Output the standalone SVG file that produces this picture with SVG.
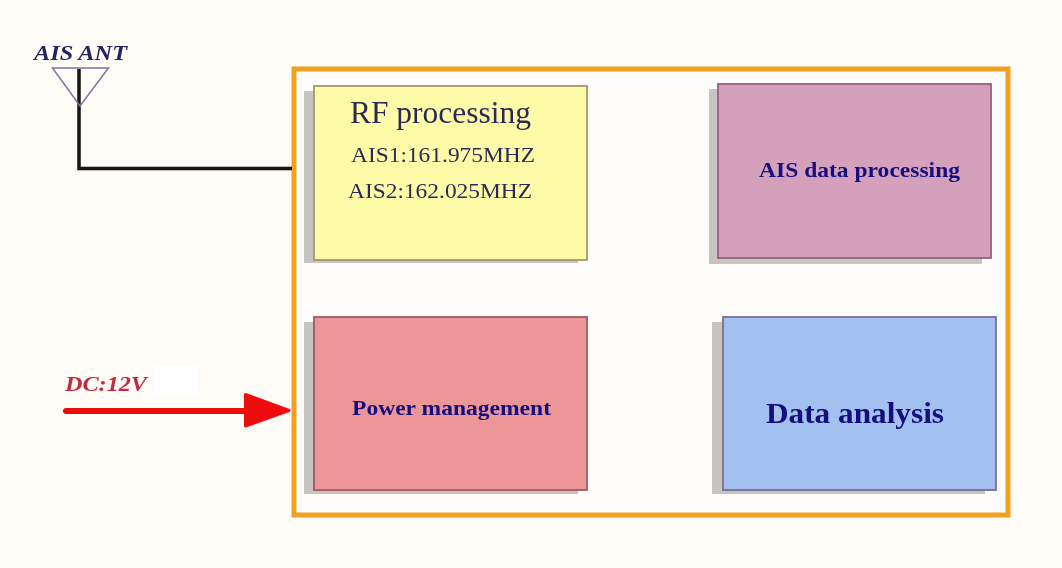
<svg xmlns="http://www.w3.org/2000/svg" width="1062" height="568" viewBox="0 0 1062 568">
<style>
.shadow{fill:#c6c4c0}
.box{stroke-width:1.8}
text{font-family:"Liberation Serif","Times New Roman",serif}
.b{font-weight:bold;fill:#14107e}
.rf{fill:#2a2a55}
</style>
<defs><filter id="soft" filterUnits="userSpaceOnUse" x="0" y="0" width="1062" height="568"><feGaussianBlur stdDeviation="0.55"/></filter></defs>
<rect width="1062" height="568" fill="#fffcf8"/>
<g filter="url(#soft)">
<rect id="frame" x="294" y="69" width="714" height="446" fill="#fffdfb" stroke="#f0a020" stroke-width="5"/>
<g id="connectors">
<path d="M79 69V168.500H292" fill="none" stroke="#141414" stroke-width="3.500"/>
<path d="M66 411H250" stroke="#ee0a0a" stroke-width="6" stroke-linecap="round"/>
<path d="M245.500 394.500L289 410.500L245.500 426Z" fill="#ee0a0a" stroke="#ee0a0a" stroke-width="3" stroke-linejoin="round"/>
</g>
<g id="antenna">
<path d="M52.500 68H108.500L80 106Z" fill="none" stroke="#77779a" stroke-width="1.500"/>
<text x="34" y="60" font-size="21.500" font-style="italic" font-weight="bold" fill="#23235f" textLength="93" lengthAdjust="spacingAndGlyphs">AIS ANT</text>
</g>
<g id="dc">
<rect x="153" y="366" width="45" height="30" fill="#ffffff"/>
<text x="65" y="391" font-size="21" font-style="italic" font-weight="bold" fill="#c22a3c" textLength="82" lengthAdjust="spacingAndGlyphs">DC:12V</text>
</g>
<g id="rf">
<rect class="shadow" x="304" y="91" width="274" height="172"/>
<rect class="box" x="314" y="86" width="273" height="174" fill="#fdfba8" stroke="#a8946a"/>
<text class="rf" x="350" y="123" font-size="31" textLength="181" lengthAdjust="spacingAndGlyphs">RF processing</text>
<text class="rf" x="351" y="162" font-size="21" textLength="184" lengthAdjust="spacingAndGlyphs">AIS1:161.975MHZ</text>
<text class="rf" x="348" y="198" font-size="21" textLength="184" lengthAdjust="spacingAndGlyphs">AIS2:162.025MHZ</text>
</g>
<g id="ais-data">
<rect class="shadow" x="709" y="89" width="273" height="175"/>
<rect class="box" x="718" y="84" width="273" height="174" fill="#d4a0bc" stroke="#96607e"/>
<text class="b" x="759" y="177" font-size="21" textLength="201" lengthAdjust="spacingAndGlyphs">AIS data processing</text>
</g>
<g id="power">
<rect class="shadow" x="304" y="322" width="274" height="172"/>
<rect class="box" x="314" y="317" width="273" height="173" fill="#ec9698" stroke="#a05a60"/>
<text class="b" x="352" y="415" font-size="20.500" textLength="199" lengthAdjust="spacingAndGlyphs">Power management</text>
</g>
<g id="data-analysis">
<rect class="shadow" x="712" y="322" width="273" height="172"/>
<rect class="box" x="723" y="317" width="273" height="173" fill="#a2c0f0" stroke="#7a6c90"/>
<text class="b" x="766" y="423" font-size="30" textLength="178" lengthAdjust="spacingAndGlyphs">Data analysis</text>
</g>
</g>
</svg>
